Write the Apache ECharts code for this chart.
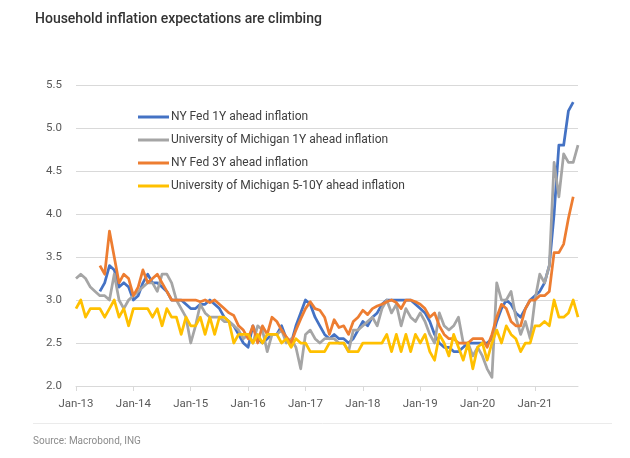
<!DOCTYPE html>
<html>
<head>
<meta charset="utf-8">
<script src="https://cdn.jsdelivr.net/npm/echarts@6/dist/echarts.min.js"></script>
<style>
html,body{margin:0;padding:0;background:#fff;}
#c{width:630px;height:458px;}
</style>
</head>
<body>
<div id="c"></div>
<script>
// Categories: monthly Jan-13 .. Oct-21
var startYear = 2013, nMonths = 106;
var monthNames = ['Jan','Feb','Mar','Apr','May','Jun','Jul','Aug','Sep','Oct','Nov','Dec'];
var categories = [];
for (var k = 0; k < nMonths; k++) {
  var y = startYear + Math.floor(k / 12);
  categories.push(monthNames[k % 12] + '-' + String(y).slice(2));
}

var seriesNames = [
  'NY Fed 1Y ahead inflation',
  'University of Michigan 1Y ahead inflation',
  'NY Fed 3Y ahead inflation',
  'University of Michigan 5-10Y ahead inflation'
];

var nyFed1Y = [null,null,null,null,null,
  3.1,3.2,3.4,3.35,3.15,3.2,3.15,
  3.0,3.05,3.2,3.3,3.2,3.2,3.15,3.1,3.0,3.0,3.0,2.95,
  2.9,2.9,2.95,2.95,3.0,2.95,2.9,2.8,2.75,2.7,2.6,2.5,
  2.45,2.7,2.55,2.5,2.55,2.6,2.6,2.7,2.55,2.5,2.7,2.85,
  3.0,2.95,2.8,2.7,2.6,2.55,2.6,2.55,2.55,2.5,2.55,2.65,
  2.75,2.7,2.8,2.85,2.95,3.0,3.0,3.0,3.0,3.0,3.0,2.95,
  2.9,2.85,2.75,2.6,2.5,2.45,2.45,2.4,2.4,2.45,2.5,2.5,
  2.5,2.5,2.5,2.55,2.75,2.9,3.0,2.95,2.85,2.8,2.9,3.0,
  3.05,3.1,3.2,3.4,4.0,4.8,4.8,5.2,5.3,null];

var umich1Y = [
  3.25,3.3,3.25,3.15,3.1,3.05,3.05,3.0,3.3,3.0,2.9,3.0,
  3.05,3.1,3.15,3.2,3.2,3.1,3.3,3.3,3.2,3.0,2.9,2.8,
  2.5,2.7,2.95,2.85,2.8,2.8,2.8,2.75,2.75,2.7,2.65,2.55,
  2.6,2.5,2.7,2.65,2.4,2.6,2.6,2.65,2.5,2.55,2.45,2.2,
  2.6,2.65,2.55,2.5,2.55,2.55,2.55,2.5,2.5,2.4,2.65,2.65,
  2.7,2.75,2.8,2.7,2.9,3.0,2.85,2.95,2.7,2.9,2.8,2.75,
  2.85,2.75,2.6,2.5,2.85,2.7,2.65,2.7,2.8,2.5,2.5,2.35,
  2.45,2.35,2.2,2.1,3.2,3.0,3.0,3.1,2.8,2.6,2.75,2.55,
  3.0,3.3,3.2,3.4,4.6,4.2,4.7,4.6,4.6,4.8];

var nyFed3Y = [null,null,null,null,null,
  3.4,3.3,3.8,3.5,3.2,3.3,3.25,
  3.05,3.15,3.35,3.2,3.25,3.3,3.2,3.1,3.0,3.0,3.0,3.0,
  3.0,3.0,2.98,3.0,2.97,3.0,2.95,2.9,2.85,2.82,2.7,2.65,
  2.55,2.7,2.5,2.7,2.6,2.8,2.75,2.65,2.57,2.5,2.65,2.78,
  2.9,2.98,2.9,2.88,2.8,2.6,2.77,2.68,2.7,2.6,2.75,2.8,
  2.88,2.83,2.9,2.93,2.95,2.98,3.0,2.97,2.9,3.0,3.0,2.98,
  2.95,2.9,2.8,2.85,2.7,2.6,2.55,2.55,2.5,2.5,2.5,2.55,
  2.55,2.55,2.45,2.6,2.8,2.95,2.9,2.75,2.7,2.7,2.9,3.0,
  3.0,3.05,3.05,3.1,3.55,3.55,3.65,3.95,4.2,null];

var umich5to10Y = [
  2.9,3.0,2.8,2.9,2.9,2.9,2.8,2.9,3.0,2.8,2.9,2.7,
  2.9,2.9,2.9,2.9,2.8,2.9,2.7,2.9,2.8,2.8,2.6,2.8,
  2.7,2.7,2.8,2.6,2.8,2.6,2.8,2.8,2.75,2.5,2.6,2.6,
  2.6,2.5,2.6,2.5,2.6,2.6,2.6,2.5,2.55,2.45,2.55,2.5,
  2.5,2.4,2.4,2.4,2.4,2.5,2.5,2.5,2.5,2.4,2.4,2.4,
  2.5,2.5,2.5,2.5,2.5,2.6,2.4,2.6,2.4,2.6,2.4,2.6,
  2.5,2.6,2.4,2.3,2.6,2.5,2.35,2.6,2.45,2.3,2.5,2.2,
  2.45,2.5,2.3,2.5,2.65,2.5,2.7,2.6,2.55,2.4,2.5,2.5,
  2.7,2.7,2.75,2.7,3.0,2.8,2.8,2.85,3.0,2.8];

var yTicks = { min: 2.0, max: 5.5, step: 0.5 };
var colors = ['#4472C4', '#A5A5A5', '#ED7D31', '#FFC000'];
var seriesData = [nyFed1Y, umich1Y, nyFed3Y, umich5to10Y];

var FONT = 'Roboto';
var chart = echarts.init(document.getElementById('c'), null, {renderer: 'canvas'});

function isJan(i) { return i % 12 === 0; }

var option = {
  animation: false,
  backgroundColor: '#ffffff',
  title: {
    text: 'Household inflation expectations are climbing',
    left: 30, top: 7,
    textStyle: { fontFamily: FONT, fontSize: 14, fontWeight: 500, color: '#333333' }
  },
  legend: {
    orient: 'vertical',
    left: 133, top: 105,
    itemWidth: 31, itemHeight: 3, itemGap: 9,
    icon: 'rect',
    data: seriesNames,
    textStyle: { fontFamily: FONT, fontSize: 12, color: '#404040', lineHeight: 14, padding: [0,0,0,-3] }
  },
  grid: { left: 76, right: 52, top: 85, bottom: 72, containLabel: false },
  xAxis: {
    type: 'category',
    data: categories,
    boundaryGap: false,
    axisLine: { lineStyle: { color: '#D9D9D9', width: 1 } },
    axisTick: { show: true, interval: function(i){ return isJan(i); }, length: 5, lineStyle: { color: '#D9D9D9' } },
    axisLabel: { interval: function(i){ return isJan(i); }, margin: 12, fontFamily: FONT, fontSize: 11.5, color: '#595959' },
    splitLine: { show: false }
  },
  yAxis: {
    type: 'value',
    min: yTicks.min, max: yTicks.max, interval: yTicks.step,
    axisLine: { show: false },
    axisTick: { show: false },
    axisLabel: { margin: 14, fontFamily: FONT, fontSize: 11.5, color: '#595959',
      formatter: function(v){ return v.toFixed(1); } },
    splitLine: { lineStyle: { color: '#D9D9D9', width: 1 } }
  },
  graphic: [
    { type: 'line', shape: { x1: 33, y1: 423.5, x2: 612, y2: 423.5 }, style: { stroke: '#EBEBEB', lineWidth: 1 } },
    { type: 'text', left: 33, top: 436, style: { text: 'Source: Macrobond, ING', font: '10px ' + FONT, fill: '#8C8C8C' } }
  ],
  series: seriesNames.map(function(n, idx){
    return {
      name: n, type: 'line', data: seriesData[idx],
      showSymbol: false, symbol: 'none', smooth: false, connectNulls: false,
      lineStyle: { color: colors[idx], width: 2.75, join: 'round' },
      itemStyle: { color: colors[idx] },
      z: 2 + idx
    };
  })
};
chart.setOption(option);
</script>
</body>
</html>
